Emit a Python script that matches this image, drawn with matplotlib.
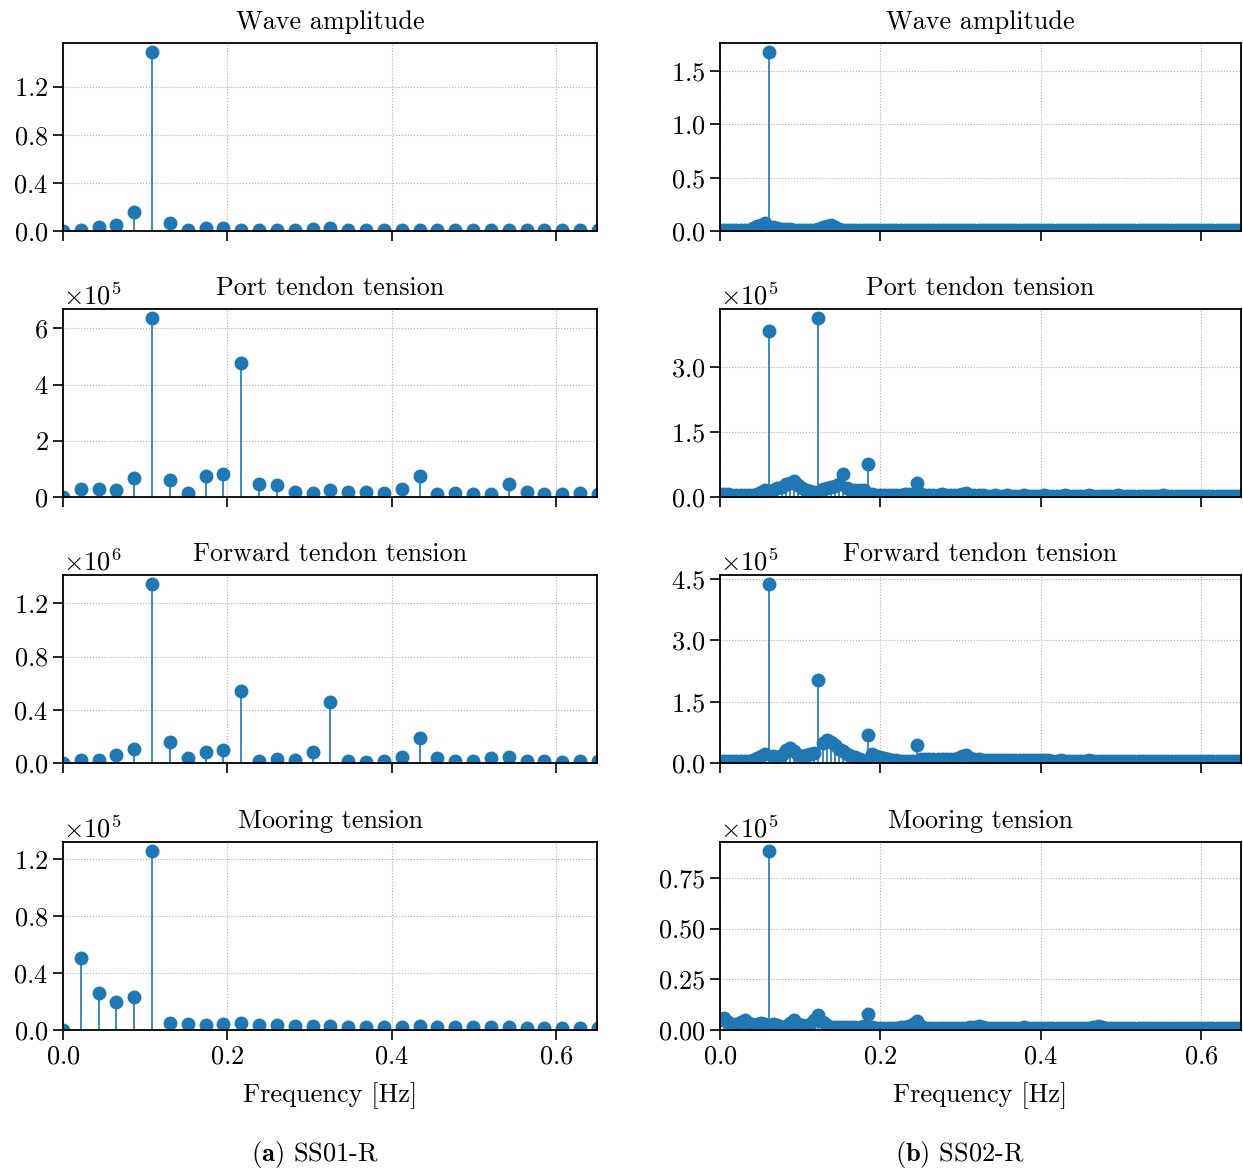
"""Frequency spectra of wave and tendon/mooring loads, SS01-R vs SS02-R."""

import numpy as np
import matplotlib
matplotlib.use("Agg")
import matplotlib.pyplot as plt

plt.rcParams.update({
    "font.family": "serif",
    "font.serif": ["cmr10"],
    "mathtext.fontset": "cm",
    "axes.formatter.use_mathtext": True,
    "axes.unicode_minus": False,
    "font.size": 19,
})

# ---- frequency grids (FFT bin width) ----
DF_A = 0.0217     # SS01-R, 31 bins
DF_B = 0.00512    # SS02-R, 128 bins

# ---- SS01-R spectra ----
WAVE_A = [0.0, 0.01, 0.036, 0.05, 0.16, 1.49, 0.064, 0.01, 0.025, 0.022,
          0.008, 0.008, 0.01, 0.008, 0.017, 0.022, 0.008, 0.008, 0.008, 0.006,
          0.008, 0.007, 0.006, 0.008, 0.006, 0.007, 0.006, 0.008, 0.006, 0.006, 0.006]
PORT_A = [0.0, 0.27, 0.30, 0.24, 0.68, 6.37, 0.62, 0.15, 0.76, 0.81,
          4.77, 0.48, 0.42, 0.19, 0.15, 0.26, 0.18, 0.18, 0.14, 0.27,
          0.76, 0.10, 0.15, 0.11, 0.11, 0.45, 0.18, 0.10, 0.10, 0.13, 0.12]   # x1e5
FWD_A = [0.0, 0.02, 0.025, 0.063, 0.106, 1.346, 0.161, 0.038, 0.083, 0.10,
         0.539, 0.013, 0.033, 0.023, 0.083, 0.459, 0.018, 0.01, 0.018, 0.043,
         0.189, 0.035, 0.013, 0.015, 0.035, 0.045, 0.018, 0.013, 0.008, 0.018, 0.018]  # x1e6
MOOR_A = [0.0, 0.51, 0.262, 0.20, 0.23, 1.26, 0.047, 0.045, 0.035, 0.04,
          0.052, 0.038, 0.033, 0.031, 0.026, 0.028, 0.021, 0.024, 0.024, 0.019,
          0.026, 0.019, 0.019, 0.019, 0.019, 0.019, 0.014, 0.014, 0.014, 0.014, 0.014]  # x1e5

# ---- SS02-R spectra ----
WAVE_B = [0.005, 0.005, 0.005, 0.005, 0.005, 0.006, 0.008, 0.012,
          0.025, 0.045, 0.06, 0.075, 1.678, 0.04, 0.03, 0.02,
          0.015, 0.015, 0.012, 0.01, 0.01, 0.01, 0.01, 0.012,
          0.02, 0.035, 0.05, 0.055, 0.04, 0.015, 0.008, 0.006,
          0.005, 0.005, 0.005, 0.005, 0.005, 0.005, 0.005, 0.005,
          0.005, 0.005, 0.005, 0.005, 0.005, 0.005, 0.005, 0.005,
          0.005, 0.005, 0.005, 0.005, 0.005, 0.005, 0.005, 0.005,
          0.005, 0.005, 0.005, 0.005, 0.005, 0.005, 0.005, 0.005,
          0.005, 0.005, 0.005, 0.005, 0.005, 0.005, 0.005, 0.005,
          0.005, 0.005, 0.005, 0.005, 0.005, 0.005, 0.005, 0.005,
          0.005, 0.005, 0.005, 0.005, 0.005, 0.005, 0.005, 0.005,
          0.005, 0.005, 0.005, 0.005, 0.005, 0.005, 0.005, 0.005,
          0.005, 0.005, 0.005, 0.005, 0.005, 0.005, 0.005, 0.005,
          0.005, 0.005, 0.005, 0.005, 0.005, 0.005, 0.005, 0.005,
          0.005, 0.005, 0.005, 0.005, 0.005, 0.005, 0.005, 0.005,
          0.005, 0.005, 0.005, 0.005, 0.005, 0.005, 0.005, 0.005]
PORT_B = [0.08, 0.07, 0.06, 0.05, 0.05, 0.04, 0.04, 0.04,
          0.05, 0.08, 0.12, 0.16, 3.83, 0.17, 0.20, 0.22,
          0.30, 0.33, 0.36, 0.28, 0.20, 0.16, 0.14, 0.12,
          4.13, 0.18, 0.20, 0.22, 0.26, 0.30, 0.52, 0.20,
          0.17, 0.17, 0.16, 0.15, 0.75, 0.06, 0.05, 0.05,
          0.05, 0.04, 0.04, 0.05, 0.05, 0.06, 0.07, 0.08,
          0.32, 0.08, 0.05, 0.05, 0.04, 0.05, 0.06, 0.05,
          0.04, 0.04, 0.05, 0.07, 0.09, 0.05, 0.04, 0.04,
          0.04, 0.03, 0.03, 0.04, 0.03, 0.03, 0.04, 0.03,
          0.03, 0.03, 0.04, 0.03, 0.03, 0.03, 0.03, 0.04,
          0.03, 0.03, 0.03, 0.03, 0.04, 0.03, 0.03, 0.03,
          0.03, 0.03, 0.04, 0.03, 0.03, 0.03, 0.03, 0.03,
          0.03, 0.04, 0.03, 0.03, 0.03, 0.03, 0.03, 0.03,
          0.03, 0.03, 0.03, 0.03, 0.04, 0.03, 0.03, 0.03,
          0.03, 0.03, 0.03, 0.03, 0.03, 0.03, 0.03, 0.03,
          0.03, 0.03, 0.03, 0.03, 0.03, 0.03, 0.03, 0.03]   # x1e5
FWD_B = [0.05, 0.04, 0.04, 0.05, 0.05, 0.05, 0.06, 0.06,
         0.08, 0.12, 0.17, 0.22, 4.38, 0.18, 0.15, 0.20,
         0.33, 0.37, 0.30, 0.20, 0.17, 0.20, 0.22, 0.25,
         2.03, 0.48, 0.56, 0.52, 0.45, 0.35, 0.30, 0.22,
         0.18, 0.14, 0.10, 0.06, 0.68, 0.22, 0.18, 0.15,
         0.12, 0.10, 0.08, 0.07, 0.06, 0.05, 0.05, 0.05,
         0.43, 0.10, 0.09, 0.09, 0.10, 0.11, 0.10, 0.09,
         0.09, 0.10, 0.13, 0.17, 0.20, 0.12, 0.10, 0.09,
         0.08, 0.08, 0.07, 0.08, 0.08, 0.07, 0.07, 0.08,
         0.07, 0.07, 0.07, 0.08, 0.07, 0.07, 0.07, 0.07,
         0.07, 0.06, 0.06, 0.07, 0.06, 0.06, 0.06, 0.06,
         0.06, 0.06, 0.07, 0.06, 0.06, 0.06, 0.06, 0.06,
         0.06, 0.06, 0.06, 0.06, 0.06, 0.06, 0.06, 0.06,
         0.06, 0.06, 0.06, 0.06, 0.06, 0.06, 0.06, 0.06,
         0.06, 0.06, 0.06, 0.06, 0.06, 0.06, 0.06, 0.06,
         0.06, 0.06, 0.06, 0.06, 0.06, 0.06, 0.06, 0.06]   # x1e5
MOOR_B = [0.05, 0.06, 0.04, 0.025, 0.03, 0.04, 0.048, 0.035,
          0.025, 0.03, 0.035, 0.03, 0.883, 0.03, 0.025, 0.015,
          0.02, 0.035, 0.048, 0.03, 0.025, 0.02, 0.03, 0.05,
          0.076, 0.04, 0.025, 0.015, 0.013, 0.013, 0.013, 0.013,
          0.013, 0.013, 0.014, 0.02, 0.077, 0.015, 0.012, 0.012,
          0.012, 0.012, 0.012, 0.012, 0.013, 0.015, 0.02, 0.03,
          0.043, 0.02, 0.012, 0.011, 0.011, 0.011, 0.011, 0.011,
          0.011, 0.011, 0.011, 0.012, 0.012, 0.013, 0.016, 0.018,
          0.014, 0.011, 0.011, 0.011, 0.011, 0.011, 0.011, 0.011,
          0.011, 0.012, 0.014, 0.012, 0.011, 0.011, 0.011, 0.011,
          0.011, 0.011, 0.011, 0.011, 0.011, 0.011, 0.011, 0.011,
          0.011, 0.011, 0.012, 0.014, 0.018, 0.014, 0.011, 0.011,
          0.011, 0.011, 0.011, 0.011, 0.011, 0.011, 0.011, 0.011,
          0.011, 0.011, 0.011, 0.011, 0.011, 0.011, 0.011, 0.011,
          0.011, 0.011, 0.011, 0.011, 0.011, 0.011, 0.011, 0.011,
          0.011, 0.011, 0.011, 0.011, 0.011, 0.011, 0.011, 0.011]   # x1e5

TITLES = ["Wave amplitude", "Port tendon tension",
          "Forward tendon tension", "Mooring tension"]
YTICKS_A = [[0, 0.4, 0.8, 1.2], [0, 2, 4, 6], [0, 0.4, 0.8, 1.2], [0, 0.4, 0.8, 1.2]]
YTICKS_B = [[0, 0.5, 1.0, 1.5], [0, 1.5, 3.0], [0, 1.5, 3.0, 4.5], [0, 0.25, 0.5, 0.75]]
ORDERS_A = [0, 5, 6, 5]
ORDERS_B = [0, 5, 5, 5]
CAPTIONS = [r"$\mathbf{(a)}$ SS01-R", r"$\mathbf{(b)}$ SS02-R"]

W, H = 1243, 1169
fig = plt.figure(figsize=(W / 100, H / 100), dpi=100)

col_left = [63, 720]
col_width = [534, 521]
row_top = [43, 309, 575, 842]
row_h = 188

columns = [
    (DF_A, [WAVE_A, PORT_A, FWD_A, MOOR_A], YTICKS_A, ORDERS_A),
    (DF_B, [WAVE_B, PORT_B, FWD_B, MOOR_B], YTICKS_B, ORDERS_B),
]

for c, (df, series, yticks, orders) in enumerate(columns):
    for r in range(4):
        ax = fig.add_axes([col_left[c] / W, 1 - (row_top[r] + row_h) / H,
                           col_width[c] / W, row_h / H])
        vals = np.asarray(series[r]) * 10.0 ** orders[r]
        freq = np.arange(len(vals)) * df
        markerline, stemlines, baseline = ax.stem(freq, vals, basefmt=" ")
        plt.setp(stemlines, linewidth=1.2, color="#1f77b4")
        plt.setp(markerline, markersize=9, color="#1f77b4")
        ax.set_xlim(0, 0.65)
        ax.set_ylim(bottom=0)
        ax.set_xticks([0, 0.2, 0.4, 0.6])
        ax.set_yticks(np.asarray(yticks[r]) * 10.0 ** orders[r])
        if orders[r]:
            ax.ticklabel_format(axis="y", style="sci",
                                scilimits=(orders[r], orders[r]))
        ax.grid(True, ls=":", lw=0.8, color="#b0b0b0")
        ax.set_axisbelow(True)
        ax.tick_params(direction="out", length=7, width=1.2)
        for sp in ax.spines.values():
            sp.set_linewidth(1.3)
        ax.set_title(TITLES[r], fontsize=18.8, pad=10)
        if r == 3:
            ax.set_xlabel("Frequency [Hz]", labelpad=10)
        else:
            ax.tick_params(labelbottom=False)

fig.text(315 / W, 1 - 1154 / H, CAPTIONS[0], ha="center", va="center")
fig.text(960 / W, 1 - 1154 / H, CAPTIONS[1], ha="center", va="center")

fig.savefig("out.png", dpi=100)
